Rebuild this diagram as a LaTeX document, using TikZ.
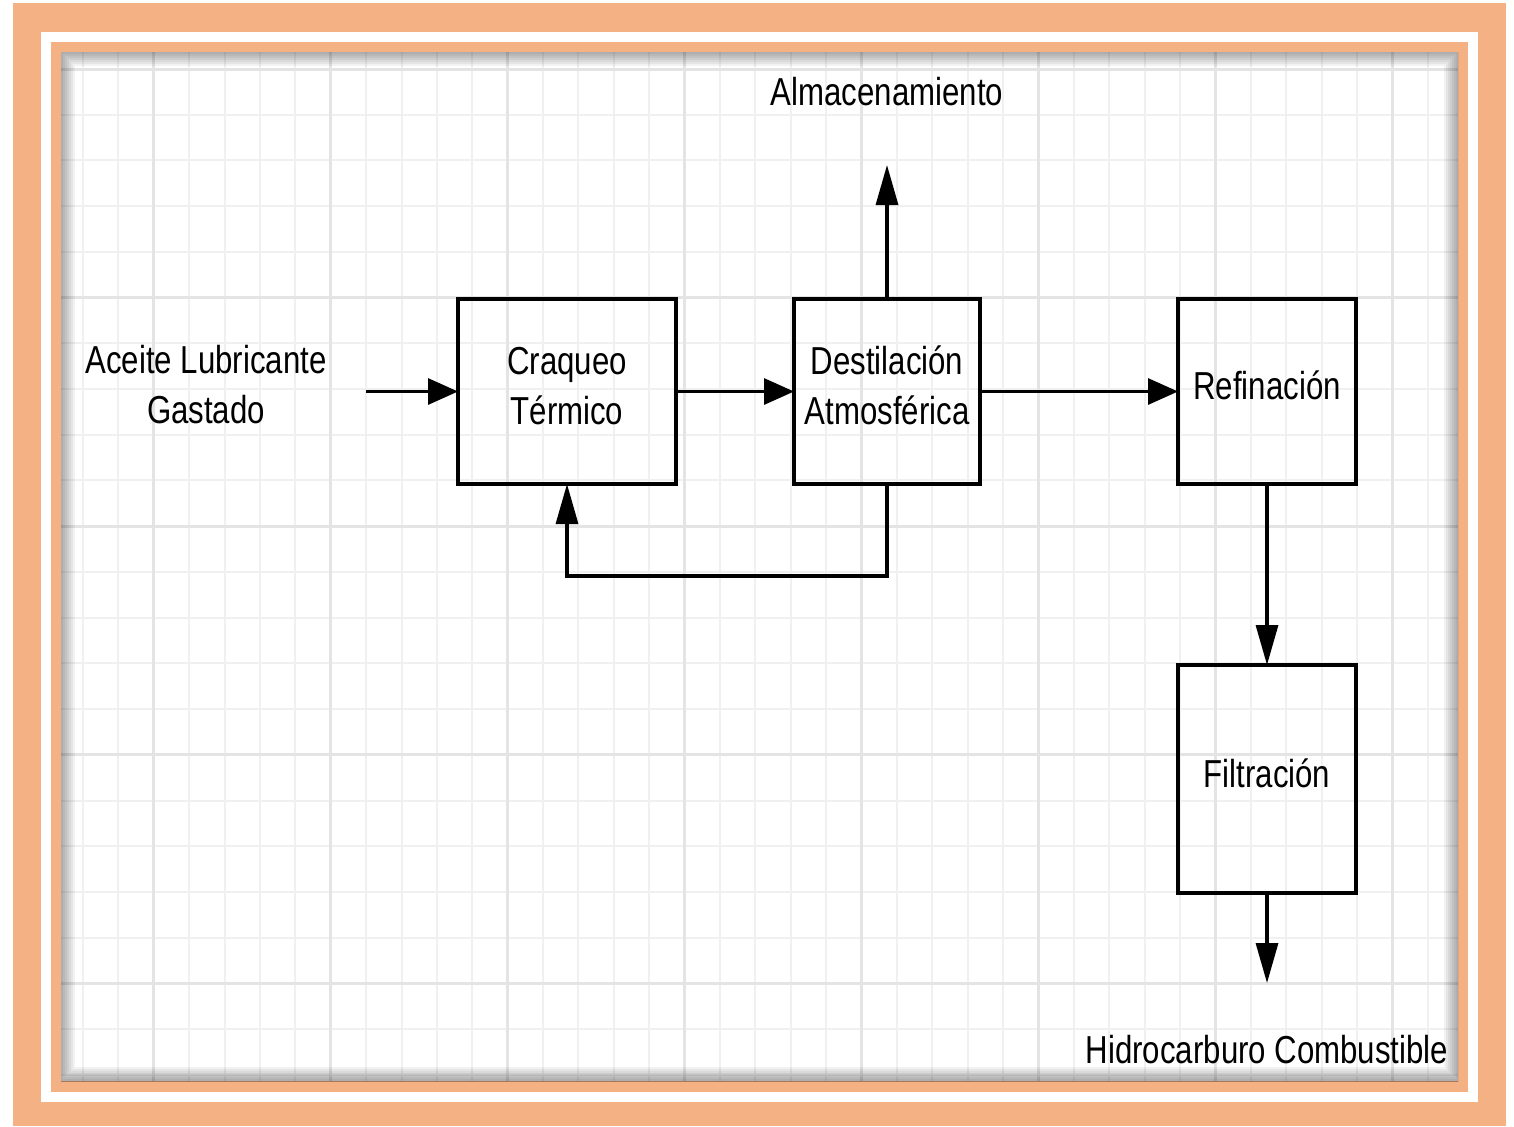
\documentclass[tikz,border=0pt]{standalone}
\usepackage{fontspec}
\setmainfont{Liberation Sans}[FakeStretch=0.8]
\usepackage{xcolor}
\usetikzlibrary{arrows.meta, positioning}
\definecolor{frameorange}{RGB}{244,177,131}
\definecolor{gridminor}{RGB}{240,240,240}
\definecolor{gridmajor}{RGB}{228,228,228}

\begin{document}
\begin{tikzpicture}[
    x=0.5pt, y=-0.5pt,
    procblock/.style={rectangle, draw, line width=1.7pt, outer sep=0pt, minimum width=89pt, minimum height=92.5pt, align=center, inner sep=2pt, text depth=6pt, font=\fontsize{19.5}{25}\selectfont},
    textlabel/.style={align=center, inner sep=0pt, font=\fontsize{19.5}{25}\selectfont},
    harrow/.style={-{Triangle[length=15pt, width=13pt]}, line width=1.6pt},
    varrow/.style={-{Triangle[length=20pt, width=11pt]}, line width=1.6pt},
    minorline/.style={gridminor, line width=1pt},
    majorline/.style={gridmajor, line width=1.5pt},
]
    \useasboundingbox (0,0) rectangle (1514,1126);

    % Frame
    \fill[white] (0,0) rectangle (1514,1126);
    \fill[frameorange] (13,3) rectangle (1506,1126);
    \fill[white] (41,32) rectangle (1478,1102);
    \fill[frameorange] (51,42) rectangle (1468,1092);
    \fill[white] (61,52) rectangle (1458,1081);

    % Grid
    \foreach \i in {0,...,38}
        \draw[minorline] ({83+35.39*\i},52) -- ({83+35.39*\i},1081);
    \foreach \j in {0,...,22}
        \draw[minorline] (61,{69+45.72*\j}) -- (1458,{69+45.72*\j});
    \foreach \i in {2,7,...,37}
        \draw[majorline] ({83+35.39*\i},52) -- ({83+35.39*\i},1081);
    \foreach \j in {0,5,...,20}
        \draw[majorline] (61,{69+45.72*\j}) -- (1458,{69+45.72*\j});

    % Inner shadow
    \begin{scope}
        \clip (61,52) rectangle (1458,1081);
        \foreach \w in {4,8,...,28}
            \draw[black, opacity=0.05, line width=\w*0.5pt] (61,52) rectangle (1458,1081);
    \end{scope}

    % Process blocks
    \node[procblock, minimum width=109pt] at (567,391.5) (craqueo) {Craqueo\\Térmico};
    \node[procblock, minimum width=93pt, right=59pt of craqueo] (destila) {Destilación\\Atmosférica};
    \node[procblock, right=99pt of destila] (refina) {Refinación};
    \node[procblock, minimum height=114pt, below=90.5pt of refina] (filtra) {Filtración};

    % Inputs and outputs
    \node[textlabel] at (206,385) (aceite) {Aceite Lubricante\\Gastado};
    \node[textlabel] at (887,92) (almacen) {Almacenamiento};
    \node[textlabel] at (1267,1050) (hidro) {Hidrocarburo Combustible};
    \coordinate (feedin) at (366,391.5);
    \coordinate (storeout) at (887,165);
    \coordinate (fuelout) at (1267,983);

    \draw[harrow] (feedin) -- (craqueo);
    \draw[harrow] (craqueo) -- (destila);
    \draw[harrow] (destila) -- (refina);
    \draw[varrow] (destila.north) -- (storeout);
    \draw[varrow] (destila.south) -- ++(0,92) -| (craqueo.south);
    \draw[varrow] (refina) -- (filtra);
    \draw[varrow] (filtra.south) -- (fuelout);
\end{tikzpicture}
\end{document}
